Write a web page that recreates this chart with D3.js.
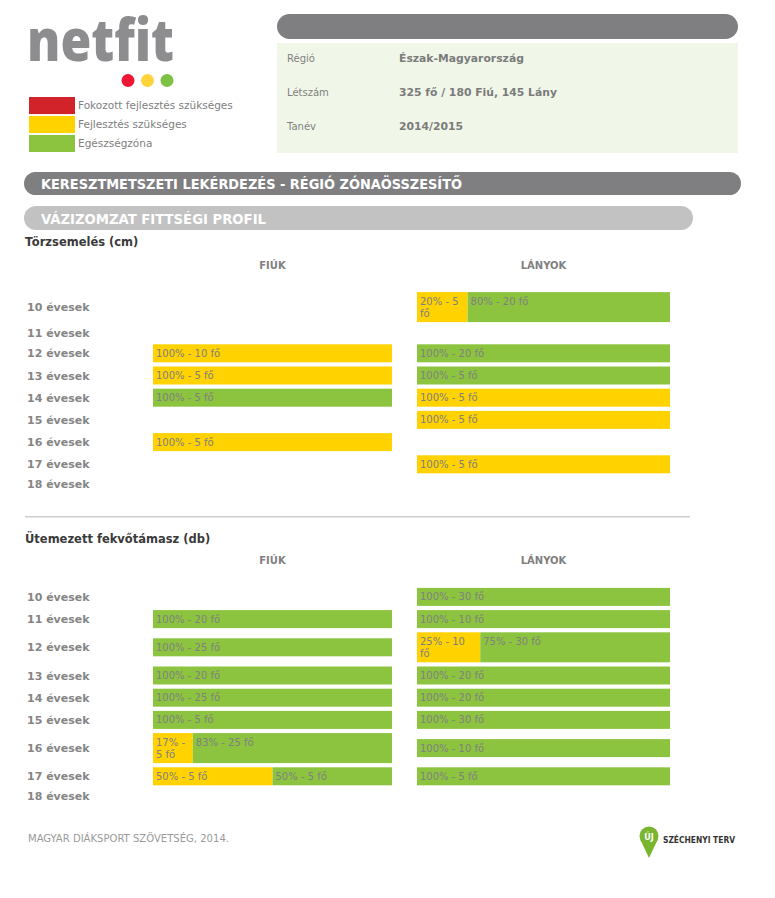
<!DOCTYPE html>
<html>
<head>
<meta charset="utf-8">
<script src="https://cdn.jsdelivr.net/npm/d3@7"></script>
<style>
  html, body { margin: 0; padding: 0; background: #fff; }
  svg { display: block; }
</style>
</head>
<body>
<div id="chart"></div>
<script>
// ---------------- DATA ----------------
const ages = ["10 évesek","11 évesek","12 évesek","13 évesek","14 évesek","15 évesek","16 évesek","17 évesek","18 évesek"];
const genders = ["FIÚK","LÁNYOK"];
const zones = ["red","yellow","green"];
const zoneNames = ["Fokozott fejlesztés szükséges","Fejlesztés szükséges","Egészségzóna"];

// Törzsemelés (cm) – number of pupils per zone
const trunkBoysRed    = [0,0,0,0,0,0,0,0,0];
const trunkBoysYellow = [0,0,10,5,0,0,5,0,0];
const trunkBoysGreen  = [0,0,0,0,5,0,0,0,0];
const trunkGirlsRed    = [0,0,0,0,0,0,0,0,0];
const trunkGirlsYellow = [5,0,0,0,5,5,0,5,0];
const trunkGirlsGreen  = [20,0,20,5,0,0,0,0,0];

// Ütemezett fekvőtámasz (db)
const pushBoysRed    = [0,0,0,0,0,0,0,0,0];
const pushBoysYellow = [0,0,0,0,0,0,5,5,0];
const pushBoysGreen  = [0,20,25,20,25,5,25,5,0];
const pushGirlsRed    = [0,0,0,0,0,0,0,0,0];
const pushGirlsYellow = [0,0,10,0,0,0,0,0,0];
const pushGirlsGreen  = [30,10,30,20,20,30,10,5,0];

const infoLabels = ["Régió","Létszám","Tanév"];
const infoValues = ["Észak-Magyarország","325 fő / 180 Fiú, 145 Lány","2014/2015"];

const sections = [
  { title: "Törzsemelés (cm)",
    data: [ {red: trunkBoysRed, yellow: trunkBoysYellow, green: trunkBoysGreen},
            {red: trunkGirlsRed, yellow: trunkGirlsYellow, green: trunkGirlsGreen} ] },
  { title: "Ütemezett fekvőtámasz (db)",
    data: [ {red: pushBoysRed, yellow: pushBoysYellow, green: pushBoysGreen},
            {red: pushGirlsRed, yellow: pushGirlsYellow, green: pushGirlsGreen} ] }
];

// ---------------- STYLE ----------------
const W = 775, H = 898;
const zoneColor = { red: "#d2232a", yellow: "#ffd200", green: "#8cc43f" };
const grey = "#808080";
const FONT = "'DejaVu Sans', Verdana, sans-serif";
const COND = "'DejaVu Sans Condensed', 'Liberation Sans Narrow', 'DejaVu Sans', sans-serif";

const svg = d3.select("#chart").append("svg").attr("width", W).attr("height", H)
  .style("font-family", FONT);

// ---------------- HEADER: logo ----------------
svg.append("text").attr("x", 27).attr("y", 61)
  .attr("font-family", "'Open Sans', sans-serif").attr("font-weight", 800)
  .attr("font-size", 58).attr("fill", "#8d8d90")
  .attr("textLength", 147).attr("lengthAdjust", "spacingAndGlyphs")
  .text("netfit");
svg.selectAll("circle.dot").data(["#ef1733","#fdd23b","#7cc143"]).join("circle")
  .attr("class","dot").attr("cx",(d,i)=>128 + i*19.5).attr("cy",80.5).attr("r",6.5).attr("fill",d=>d);

// legend
const legY = d3.scaleBand().domain(zones).range([97, 152]).paddingInner(0.1);
svg.selectAll("rect.leg").data(zones).join("rect").attr("class","leg")
  .attr("x", 29).attr("y", d => legY(d)).attr("width", 46).attr("height", legY.bandwidth())
  .attr("fill", d => zoneColor[d]);
svg.selectAll("text.leg").data(zones).join("text").attr("class","leg")
  .attr("x", 78).attr("y", d => legY(d) + legY.bandwidth()/2 + 3.2)
  .attr("font-size", 10.5).attr("fill", grey)
  .text((d,i) => zoneNames[i]);

// info box
svg.append("rect").attr("x", 277).attr("y", 14).attr("width", 461).attr("height", 25)
  .attr("rx", 12.5).attr("fill", "#7f7f82");
svg.append("rect").attr("x", 277).attr("y", 43).attr("width", 461).attr("height", 110)
  .attr("fill", "#f0f7e8");
const infoY = d3.scalePoint().domain(infoLabels).range([58, 126]);
svg.selectAll("text.il").data(infoLabels).join("text").attr("class","il")
  .attr("x", 287).attr("y", d => infoY(d) + 4).attr("font-size", 10).attr("fill", grey).text(d => d);
svg.selectAll("text.iv").data(infoValues).join("text").attr("class","iv")
  .attr("x", 399).attr("y", (d,i) => infoY(infoLabels[i]) + 4).attr("font-size", 10.8)
  .attr("font-weight", "bold").attr("fill", "#7b7b7b").text(d => d);

// section banners
svg.append("rect").attr("x", 24).attr("y", 172).attr("width", 717).attr("height", 23)
  .attr("rx", 11.5).attr("fill", "#7f7f82");
svg.append("text").attr("x", 41).attr("y", 189).attr("font-family", COND).attr("font-weight","bold")
  .attr("font-size", 13.5).attr("fill", "#fff")
  .attr("textLength", 421).attr("lengthAdjust", "spacingAndGlyphs")
  .text("KERESZTMETSZETI LEKÉRDEZÉS - RÉGIÓ ZÓNAÖSSZESÍTŐ");
svg.append("rect").attr("x", 24).attr("y", 206).attr("width", 669).attr("height", 24)
  .attr("rx", 12).attr("fill", "#c2c2c2");
svg.append("text").attr("x", 41).attr("y", 223.5).attr("font-family", COND).attr("font-weight","bold")
  .attr("font-size", 13.5).attr("fill", "#fff")
  .attr("textLength", 225).attr("lengthAdjust", "spacingAndGlyphs")
  .text("VÁZIZOMZAT FITTSÉGI PROFIL");

// ---------------- CHARTS ----------------
const colX = [d3.scaleLinear().domain([0,1]).range([153, 392]),
              d3.scaleLinear().domain([0,1]).range([417, 670])];
const BAR_FS = 10, PAD = 4, LINE = 12;

const meas = svg.append("text").attr("font-size", BAR_FS).attr("visibility","hidden");
function tw(s){ meas.text(s); return meas.node().getComputedTextLength(); }
function wrap(str, w){
  const words = str.split(" "); const lines = []; let cur = "";
  words.forEach(wd => {
    const t = cur ? cur + " " + wd : wd;
    if (cur && tw(t) > w) { lines.push(cur); cur = wd; } else cur = t;
  });
  if (cur) lines.push(cur);
  return lines;
}

function segmentsFor(d, i, scale){
  const counts = zones.map(z => d[z][i]);
  const total = d3.sum(counts);
  if (!total) return [];
  let acc = 0;
  return zones.map((z, k) => {
    const n = counts[k]; const f0 = acc / total; acc += n; const f1 = acc / total;
    if (!n) return null;
    const label = `${Math.round(n / total * 100)}% - ${n} fő`;
    const x0 = scale(f0), x1 = scale(f1);
    return { zone: z, x0, x1, lines: wrap(label, x1 - x0 - 2*PAD) };
  }).filter(Boolean);
}

let y = 242;
sections.forEach((sec, si) => {
  let hdrOff = 27, rowOff = 48;
  if (si > 0) {
    y = y + 45.4;
    svg.append("line").attr("x1", 25).attr("x2", 690).attr("y1", y - 22).attr("y2", y - 22)
      .attr("stroke", "#cfcfcf").attr("stroke-width", 1.5);
    hdrOff = 25; rowOff = 47;
  }
  const g = svg.append("g");
  g.append("text").attr("x", 25).attr("y", y + 4).attr("font-size", 11.5).attr("font-weight","bold")
    .attr("fill", "#3a3a3a").text(sec.title);
  g.selectAll("text.gh").data(genders).join("text").attr("class","gh")
    .attr("x", (d,i) => (colX[i].range()[0] + colX[i].range()[1]) / 2).attr("y", y + hdrOff)
    .attr("text-anchor","middle").attr("font-size", 10).attr("font-weight","bold").attr("fill", grey)
    .text(d => d);

  let rowTop = y + rowOff;
  ages.forEach((age, i) => {
    const segs = sec.data.map((d, gi) => segmentsFor(d, i, colX[gi]));
    const maxLines = d3.max(segs.flat(), s => s.lines.length) || 0;
    const rowH = maxLines ? maxLines * LINE + 10.2 : 18;
    const cy = rowTop + rowH / 2;
    g.append("text").attr("x", 27).attr("y", cy + 4).attr("font-size", 11).attr("font-weight","bold")
      .attr("fill", "#858585").text(age);
    segs.forEach(list => {
      if (!list.length) return;
      const nl = d3.max(list, s => s.lines.length);
      const bh = nl * LINE + 6;
      const by = cy - bh / 2;
      list.forEach(s => {
        g.append("rect").attr("x", s.x0).attr("y", by).attr("width", s.x1 - s.x0).attr("height", bh)
          .attr("fill", zoneColor[s.zone]);
        const t = g.append("text").attr("x", s.x0 + 3).attr("y", by + 12.5)
          .attr("font-size", BAR_FS).attr("fill", grey);
        s.lines.forEach((ln, li) => t.append("tspan").attr("x", s.x0 + 3).attr("dy", li ? LINE : 0).text(ln));
      });
    });
    rowTop += rowH;
  });
  y = rowTop;
});
meas.remove();

// ---------------- FOOTER ----------------
svg.append("text").attr("x", 28).attr("y", 842).attr("font-family", COND).attr("font-size", 10.5)
  .attr("fill", "#9a9a9a").attr("textLength", 201).attr("lengthAdjust","spacingAndGlyphs")
  .text("MAGYAR DIÁKSPORT SZÖVETSÉG, 2014.");
svg.append("path").attr("d", "M640.5,840 L649,858 L657.5,840 Z").attr("fill", "#7ab52f");
svg.append("circle").attr("cx", 649).attr("cy", 836).attr("r", 9.5).attr("fill", "#7ab52f");
svg.append("text").attr("x", 649).attr("y", 839.5).attr("text-anchor","middle").attr("font-size", 8)
  .attr("font-weight","bold").attr("fill", "#fff").text("ÚJ");
svg.append("text").attr("x", 663).attr("y", 843).attr("font-family", COND).attr("font-weight","bold")
  .attr("font-size", 9).attr("fill", "#333").attr("textLength", 72).attr("lengthAdjust","spacingAndGlyphs")
  .text("SZÉCHENYI TERV");
</script>
</body>
</html>
